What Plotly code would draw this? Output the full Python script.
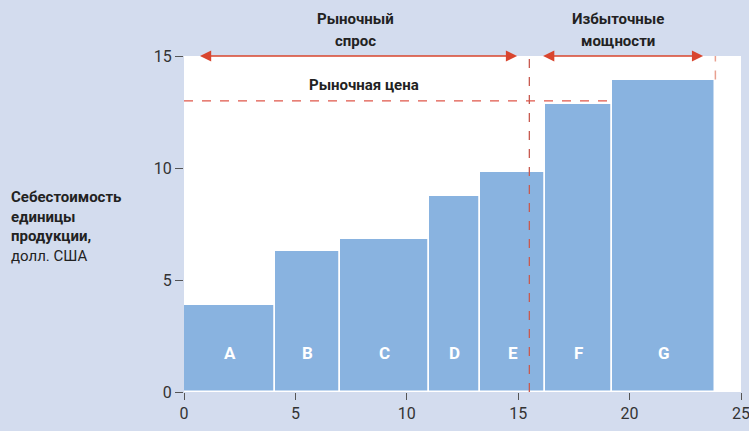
import plotly.graph_objects as go

# Data
producers = ["A", "B", "C", "D", "E", "F", "G"]
capacity = [4.1, 2.9, 4.0, 2.3, 2.9, 3.0, 4.65]       # bar widths
unit_cost = [3.9, 6.3, 6.85, 8.75, 9.8, 12.85, 13.95]  # bar heights
market_price = 13
market_demand = 15.5
x_ticks = [0, 5, 10, 15, 20, 25]
y_ticks = [0, 5, 10, 15]

starts = []
s = 0
for w in capacity:
    starts.append(s)
    s += w
centers = [a + w / 2 for a, w in zip(starts, capacity)]
total = s

BG = "#d3dcee"
BAR = "#89b3e0"
RED = "#d9452e"
DASH = "#e0574a"
FONT = "Roboto, Arial, sans-serif"

fig = go.Figure()
fig.add_trace(go.Bar(
    x=centers, y=unit_cost, width=capacity,
    marker=dict(color=BAR, line=dict(color="white", width=1.5)),
    hoverinfo="skip", showlegend=False,
))

# bar letters
for c, lab in zip(centers, producers):
    fig.add_annotation(x=c, y=1.75, text=f"<b>{lab}</b>", showarrow=False,
                       font=dict(family=FONT, size=17, color="white"))

# market price dashed line
fig.add_shape(type="line", x0=0, x1=starts[5] + capacity[5] - 0.1, y0=market_price, y1=market_price,
              line=dict(color=DASH, width=1.3, dash="dash"))
# demand vertical dashed
fig.add_shape(type="line", x0=market_demand, x1=market_demand, y0=0, y1=15,
              line=dict(color="#c85a50", width=1.3, dash="dash"))
# capacity end dashed
fig.add_shape(type="line", x0=total, x1=total, y0=unit_cost[-1], y1=15,
              line=dict(color="#e8a090", width=1.5, dash="dash"))

# arrows
for x0, x1 in [(0.65, 14.95), (16.05, 23.3)]:
    fig.add_annotation(x=x1, y=15, ax=x0, ay=15, axref="x", ayref="y", xref="x", yref="y",
                       text="", showarrow=True, arrowhead=2, arrowside="end+start",
                       arrowsize=1.4, arrowwidth=1.6, arrowcolor=RED)

head_font = dict(family=FONT, size=15, color="#222")
for x, lines in [(7.7, ["Рыночный", "спрос"]), (19.5, ["Избыточные", "мощности"])]:
    fig.add_annotation(x=x, y=15, yshift=37, text=f"<b>{lines[0]}</b>", showarrow=False, font=head_font)
    fig.add_annotation(x=x, y=15, yshift=15, text=f"<b>{lines[1]}</b>", showarrow=False, font=head_font)
fig.add_annotation(x=8.1, y=13.7, text="<b>Рыночная цена</b>", showarrow=False, font=head_font)

# y-axis title
fig.add_annotation(xref="paper", yref="paper", x=-0.315, y=0.614, xanchor="left", yanchor="top",
                   align="left", showarrow=False,
                   text="<b>Себестоимость<br>единицы<br>продукции,</b><br>долл. США",
                   font=dict(family=FONT, size=15, color="#222"))

fig.update_layout(
    width=749, height=431,
    paper_bgcolor=BG, plot_bgcolor="white",
    margin=dict(l=184, r=8, t=56, b=39, autoexpand=False),
    bargap=0,
    font=dict(family=FONT, size=15, color="#333"),
    xaxis=dict(range=[0, 25], tickvals=x_ticks, showgrid=False, zeroline=False,
               ticks="outside", ticklen=7, tickcolor="#555", showline=False,
               ticklabeloverflow="allow", automargin=False,
               tickfont=dict(family=FONT, size=16, color="#333")),
    yaxis=dict(range=[0, 15], tickvals=y_ticks, showgrid=False, zeroline=False,
               ticks="outside", ticklen=8, tickcolor="#555", showline=False,
               automargin=False,
               tickfont=dict(family=FONT, size=16, color="#333")),
)

fig.write_html("out.html", config={"displayModeBar": False},
               post_script="document.body.style.margin='0';")
